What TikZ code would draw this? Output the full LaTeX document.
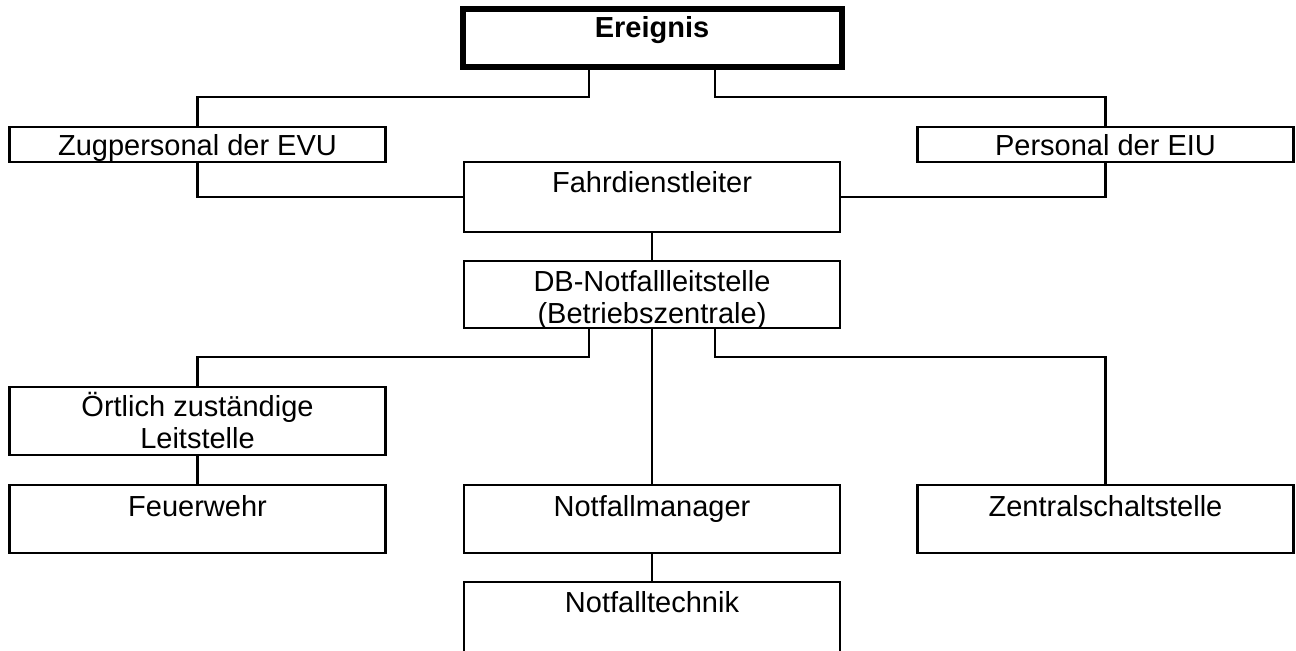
\documentclass[tikz,border=0pt]{standalone}
\usepackage{fontspec}
\setmainfont{Liberation Sans}
\usepackage{tikz}

\begin{document}
\begin{tikzpicture}[x=1pt, y=-1pt, line width=1.3pt,
	every node/.style={font=\fontsize{14.5pt}{16pt}\selectfont},
	box/.style={draw, rectangle, anchor=north, minimum width=188pt, inner xsep=0pt, inner ysep=0pt, outer sep=0pt, align=center},
	topbox/.style={box, line width=3pt, minimum width=189.5pt, font=\fontsize{14.5pt}{16pt}\selectfont\bfseries}]
	\useasboundingbox (0,0) rectangle (648,325);
	\node (ereig) [topbox, text height=14.25pt, text depth=14.75pt] at (326,4.25) {Ereignis};
	\node (zug) [box, text height=14pt, text depth=3.5pt] at (98.75,63.5) {Zugpersonal der EVU};
	\node (pers) [box, text height=14pt, text depth=3.5pt] at (552.75,63.5) {Personal der EIU};
	\node (fahr) [box, text height=15pt, text depth=20pt] at (326,81) {Fahrdienstleiter};
	\node (db) [box, text height=31pt, text depth=2.5pt] at (326,130.5) {DB-Notfallleitstelle\\(Betriebszentrale)};
	\node (ort) [box, text height=30.5pt, text depth=3.5pt] at (98.75,193.5) {Örtlich zuständige\\Leitstelle};
	\node (feuer) [box, text height=15.5pt, text depth=18.5pt] at (98.75,242.5) {Feuerwehr};
	\node (mgr) [box, text height=15.5pt, text depth=18.5pt] at (326,242.5) {Notfallmanager};
	\node (zen) [box, text height=15.5pt, text depth=18.5pt] at (552.75,242.5) {Zentralschaltstelle};
	\node (tech) [box, text height=15pt, text depth=30pt] at (326,291) {Notfalltechnik};

	\draw ([xshift=-31.5pt]ereig.south) -- ++(0,-15.25pt) -| (zug.north);
	\draw ([xshift=31.5pt]ereig.south) -- ++(0,-15.25pt) -| (pers.north);
	\draw (zug.south) |- (fahr.west);
	\draw (pers.south) |- (fahr.east);
	\draw (fahr.south) -- (db.north);
	\draw ([xshift=-31.5pt]db.south) -- ++(0,-14.5pt) -| (ort.north);
	\draw (db.south) -- (mgr.north);
	\draw ([xshift=31.5pt]db.south) -- ++(0,-14.5pt) -| (zen.north);
	\draw (ort.south) -- (feuer.north);
	\draw (mgr.south) -- (tech.north);
\end{tikzpicture}
\end{document}
